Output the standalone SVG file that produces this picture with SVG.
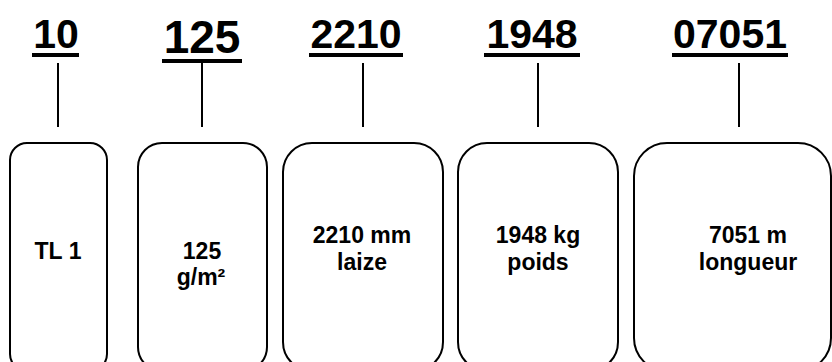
<svg xmlns="http://www.w3.org/2000/svg" width="832" height="362" viewBox="0 0 832 362">
  <style>
    .hdr { font-family: "Liberation Sans", Arial, sans-serif; font-weight: bold; fill: #000; text-anchor: middle; }
    .lbl { font-family: "Liberation Sans", Arial, sans-serif; font-weight: bold; font-size: 23px; fill: #000; text-anchor: middle; }
    .box { fill: #fff; stroke: #000; stroke-width: 2; }
    .conn { stroke: #000; stroke-width: 2; fill: none; }
    .ul { fill: #000; }
  </style>
  <rect width="832" height="362" fill="#fff"/>

  <g id="headers">
    <g id="h-10">
      <text class="hdr" x="56" y="48" font-size="41">10</text>
      <rect class="ul" x="32" y="53" width="47" height="4"/>
    </g>
    <g id="h-125">
      <text class="hdr" x="202" y="53" font-size="46">125</text>
      <rect class="ul" x="162" y="59" width="80" height="4"/>
    </g>
    <g id="h-2210">
      <text class="hdr" x="356" y="48" font-size="41">2210</text>
      <rect class="ul" x="309" y="53" width="94" height="4"/>
    </g>
    <g id="h-1948">
      <text class="hdr" x="532" y="48" font-size="41">1948</text>
      <rect class="ul" x="484" y="53" width="96" height="4"/>
    </g>
    <g id="h-07051">
      <text class="hdr" x="730" y="48" font-size="41">07051</text>
      <rect class="ul" x="672" y="53" width="116" height="4"/>
    </g>
  </g>

  <g id="connectors">
    <line class="conn" x1="58" y1="63" x2="58" y2="127"/>
    <line class="conn" x1="202" y1="63" x2="202" y2="127"/>
    <line class="conn" x1="363" y1="63" x2="363" y2="127"/>
    <line class="conn" x1="538" y1="63" x2="538" y2="127"/>
    <line class="conn" x1="739" y1="63" x2="739" y2="127"/>
  </g>

  <g id="box-tl1">
    <rect class="box" x="10" y="143" width="97" height="228" rx="17" ry="17"/>
    <text class="lbl" x="58" y="259">TL 1</text>
  </g>
  <g id="box-125">
    <rect class="box" x="138" y="143" width="129" height="228" rx="24" ry="24"/>
    <text class="lbl" x="202" y="259">125</text>
    <text class="lbl" x="201" y="285">g/m²</text>
  </g>
  <g id="box-2210">
    <rect class="box" x="283" y="143" width="160" height="228" rx="29" ry="29"/>
    <text class="lbl" x="362" y="243">2210 mm</text>
    <text class="lbl" x="362" y="270">laize</text>
  </g>
  <g id="box-1948">
    <rect class="box" x="458" y="143" width="160" height="228" rx="29" ry="29"/>
    <text class="lbl" x="538" y="243">1948 kg</text>
    <text class="lbl" x="538" y="270">poids</text>
  </g>
  <g id="box-7051">
    <rect class="box" x="634" y="143" width="197" height="228" rx="33" ry="33"/>
    <text class="lbl" x="748" y="243">7051 m</text>
    <text class="lbl" x="748" y="270">longueur</text>
  </g>
</svg>
